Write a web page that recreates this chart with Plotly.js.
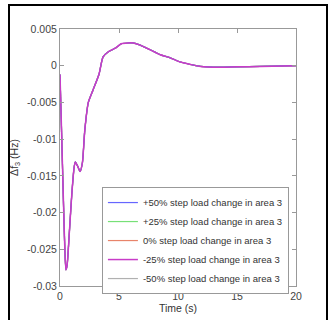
<!DOCTYPE html>
<html><head><meta charset="utf-8">
<script src="https://cdn.plot.ly/plotly-3.0.1.min.js"></script>
<style>
html,body{margin:0;padding:0;background:#fff;}
#wrap{position:relative;width:328px;height:320px;overflow:hidden;}
#chart{position:absolute;left:0;top:0;width:328px;height:320px;}
#frame{position:absolute;left:8px;top:4px;width:316px;height:330px;border:2px solid #000;pointer-events:none;}
</style></head>
<body>
<div id="wrap"><div id="chart"></div><div id="frame"></div></div>
<script>
const time = [0, 0.1, 0.2, 0.3, 0.4, 0.5, 0.6, 0.8, 1.0, 1.2, 1.3, 1.5, 1.7, 1.9, 2.1, 2.4, 2.8, 3.3, 3.65, 4.1, 4.7, 5.2, 5.8, 6.2, 6.8, 7.6, 8.5, 9.3, 10.2, 11.0, 11.9, 13.5, 15.0, 17.0, 20.0];
const df3 = [-0.0012, -0.007, -0.013, -0.019, -0.0245, -0.0278, -0.0272, -0.0225, -0.0175, -0.0138, -0.0131, -0.0137, -0.0144, -0.0132, -0.0088, -0.005, -0.0033, -0.0012, 0.0012, 0.0019, 0.0024, 0.003, 0.0031, 0.0031, 0.0028, 0.0022, 0.0015, 0.0011, 0.0005, 0.0002, -0.0001, -0.0002, -0.00015, -0.0001, 0.0];
const seriesNames = ["+50% step load change in area 3", "+25% step load change in area 3", "0% step load change in area 3", "-25% step load change in area 3", "-50% step load change in area 3"];
const seriesColors = ["#6666ff", "#77e077", "#e8846a", "#c83cc8", "#b0b0b0"];
const drawOrder = [4, 2, 1, 0, 3];
const yTickVals = [0.005, 0, -0.005, -0.01, -0.015, -0.02, -0.025, -0.03];
const yTickText = ["0.005", "0", "-0.005", "-0.01", "-0.015", "-0.02", "-0.025", "-0.03"];
const xTickVals = [0, 5, 10, 15, 20];

const traces = drawOrder.map(i => ({
  x: time, y: df3, type: 'scatter', mode: 'lines',
  name: seriesNames[i], legendrank: i + 1,
  line: {color: seriesColors[i], width: i === 3 ? 1.5 : 1.2, shape: 'spline', smoothing: 0.6}
}));
const fnt = "Liberation Sans, Arial, sans-serif";
const layout = {
  width: 328, height: 320,
  margin: {l: 60, r: 32, t: 29, b: 34},
  paper_bgcolor: '#fff', plot_bgcolor: '#fff',
  font: {family: fnt, size: 10, color: '#333'},
  showlegend: true,
  legend: {x: 0.97, y: 0.385, xanchor: 'right', yanchor: 'top', bgcolor: '#fff',
    bordercolor: '#999', borderwidth: 1, font: {family: fnt, size: 9.5, color: '#333'},
    tracegroupgap: 0, itemwidth: 30},
  xaxis: {range: [0, 20], tickvals: xTickVals, ticks: 'inside', ticklen: 4, tickcolor: '#999',
    showline: true, linecolor: '#999', mirror: 'ticks', showgrid: false, zeroline: false,
    title: {text: 'Time (s)', font: {family: fnt, size: 10.5, color: '#333'}, standoff: 1},
    tickfont: {family: fnt, size: 10.5, color: '#444'}},
  yaxis: {range: [-0.03, 0.005], tickvals: yTickVals, ticktext: yTickText, ticks: 'inside', ticklen: 4,
    tickcolor: '#999', showline: true, linecolor: '#999', mirror: 'ticks', showgrid: false, zeroline: false,
    title: {text: 'Δf<sub>3</sub> (Hz)', font: {family: fnt, size: 10.5, color: '#333'}, standoff: 6},
    tickfont: {family: fnt, size: 10.5, color: '#444'}}
};
Plotly.newPlot('chart', traces, layout, {displayModeBar: false, staticPlot: true});
</script>
</body></html>
